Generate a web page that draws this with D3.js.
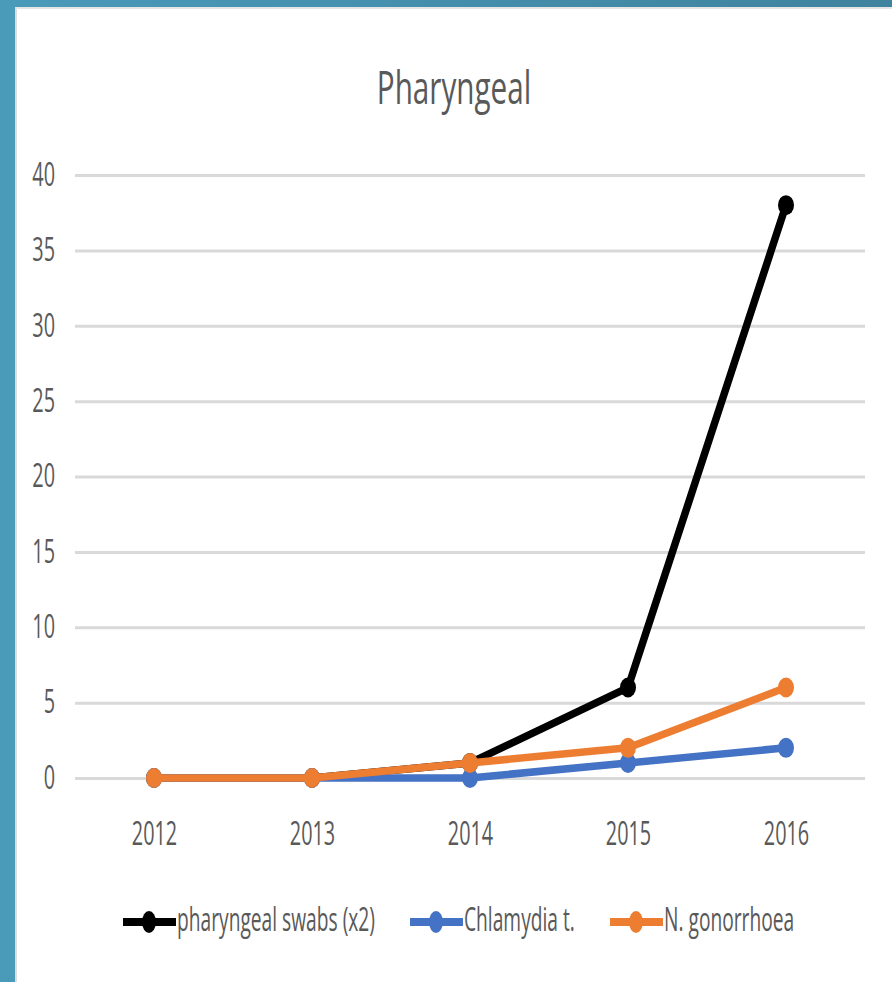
<!DOCTYPE html>
<html><head><meta charset="utf-8">
<script src="https://cdn.jsdelivr.net/npm/d3@7"></script>
<style>body{margin:0;background:#fff}text{font-family:"Open Sans",sans-serif;fill:#595959}</style>
</head><body><svg id="c" width="892" height="982"></svg>
<script>
const years = ["2012","2013","2014","2015","2016"];
const swabs = [0,0,1,6,38];
const chlamydia = [0,0,0,1,2];
const gonorrhoea = [0,0,1,2,6];
const yTicks = [0,5,10,15,20,25,30,35,40];
const seriesNames = ["pharyngeal swabs (x2)","Chlamydia t.","N. gonorrhoea"];
const seriesColors = ["#000000","#4472C4","#ED7D31"];
const title = "Pharyngeal";

const SX = 0.62;
const svg = d3.select("#c");
// frame
svg.append("rect").attr("x",0).attr("y",0).attr("width",892).attr("height",982).attr("fill","#ffffff");
const grad = svg.append("defs").append("linearGradient").attr("id","tg").attr("x1","0").attr("x2","1");
grad.append("stop").attr("offset","0").attr("stop-color","#4a9aba");
grad.append("stop").attr("offset","1").attr("stop-color","#3f839e");
svg.append("rect").attr("x",0).attr("y",0).attr("width",892).attr("height",7).attr("fill","url(#tg)");
svg.append("rect").attr("x",0).attr("y",0).attr("width",15).attr("height",982).attr("fill","#4a9aba");
svg.append("line").attr("x1",16).attr("x2",16).attr("y1",7).attr("y2",982).attr("stroke","#dddddd").attr("stroke-width",2);
svg.append("line").attr("x1",16).attr("x2",892).attr("y1",8).attr("y2",8).attr("stroke","#e6e6e6").attr("stroke-width",2);

const x = d3.scalePoint().domain(years).range([154,786]);
const y = d3.scaleLinear().domain([0,40]).range([778,175]);

// gridlines
const yAxis = d3.axisLeft(y).tickValues(yTicks).tickSize(-790).tickPadding(20);
const gy = svg.append("g").attr("transform","translate(75,0)").call(yAxis);
gy.select(".domain").remove();
gy.selectAll(".tick line").attr("stroke","#d9d9d9").attr("stroke-width",3);
gy.selectAll(".tick text").attr("font-size",32).attr("fill","#595959")
  .attr("x",-20/SX).attr("transform",`scale(${SX},1)`);

const xAxis = d3.axisBottom(x).tickSize(0).tickPadding(44);
const gx = svg.append("g").attr("transform","translate(0,778)").call(xAxis);
gx.select(".domain").remove();
gx.selectAll(".tick text").attr("font-size",32).attr("fill","#595959")
  .attr("transform",`scale(${SX},1)`);

// title
svg.append("g").attr("transform","translate(454,104) scale(0.645,1)")
  .append("text").attr("text-anchor","middle").attr("font-size",46).text(title);

const allSeries = [swabs, chlamydia, gonorrhoea];
const line = d3.line().x((d,i)=>x(years[i])).y(d=>y(d));
allSeries.forEach((s,k)=>{
  svg.append("path").datum(s).attr("d",line).attr("fill","none")
    .attr("stroke",seriesColors[k]).attr("stroke-width",7.5).attr("stroke-linejoin","round");
  svg.append("g").selectAll("ellipse").data(s).join("ellipse")
    .attr("cx",(d,i)=>x(years[i])).attr("cy",d=>y(d)).attr("rx",8).attr("ry",10)
    .attr("fill",seriesColors[k]);
});

// legend
const legX = [123,410,610];
seriesNames.forEach((n,k)=>{
  const g = svg.append("g").attr("transform",`translate(${legX[k]},922)`);
  g.append("line").attr("x1",0).attr("x2",53).attr("y1",0).attr("y2",0)
    .attr("stroke",seriesColors[k]).attr("stroke-width",8);
  g.append("ellipse").attr("cx",26).attr("cy",0).attr("rx",7).attr("ry",11).attr("fill",seriesColors[k]);
  g.append("g").attr("transform",`translate(54,9) scale(0.6,1)`)
    .append("text").attr("font-size",32).text(n);
});
</script></body></html>
